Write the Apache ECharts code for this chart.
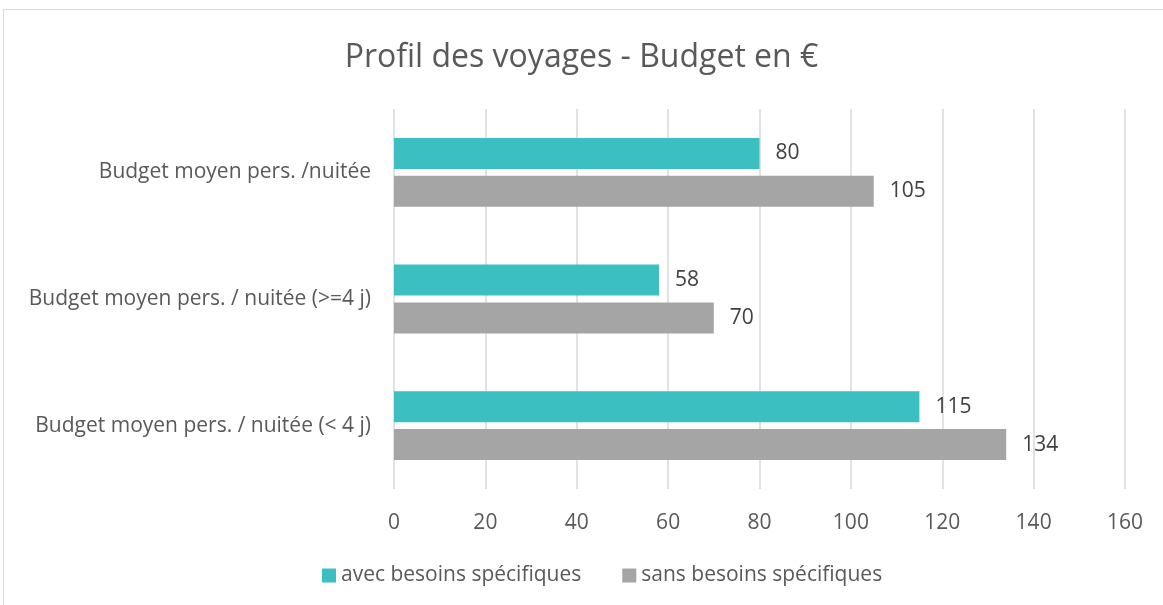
<!DOCTYPE html>
<html>
<head>
<meta charset="utf-8">
<script src="https://cdn.jsdelivr.net/npm/echarts@6/dist/echarts.min.js"></script>
<style>
  html, body { margin: 0; padding: 0; background: #fff; }
  #chart { width: 1163px; height: 605px; }
  #frame { position: absolute; left: 3px; top: 9px; width: 1170px; height: 610px; border: 1px solid #d9d9d9; pointer-events: none; }
</style>
</head>
<body>
<div id="chart"></div>
<div id="frame"></div>
<script>
// categories listed top to bottom
const categories = [
    'Budget moyen pers. /nuitée',
    'Budget moyen pers. / nuitée (>=4 j)',
    'Budget moyen pers. / nuitée (< 4 j)'
];
const avecBesoins = [80, 58, 115];
const sansBesoins = [105, 70, 134];
const xTicks = [0, 20, 40, 60, 80, 100, 120, 140, 160];

const fontName = 'Open Sans';
var myChart = echarts.init(document.getElementById('chart'));

var option = {
    animation: false,
    title: {
        text: 'Profil des voyages - Budget en €',
        left: 'center',
        top: 37,
        textStyle: { fontFamily: fontName, fontSize: 32, fontWeight: 'normal', color: '#595959' }
    },
    legend: {
        top: 560,
        left: 317,
        itemWidth: 14,
        itemHeight: 14,
        itemGap: 41,
        icon: 'rect',
        textStyle: { fontFamily: fontName, fontSize: 21, color: '#595959' },
        data: ['avec besoins spécifiques', 'sans besoins spécifiques']
    },
    grid: { left: 394, right: 38, top: 109, bottom: 116, containLabel: false },
    xAxis: {
        type: 'value',
        min: xTicks[0],
        max: xTicks[xTicks.length - 1],
        interval: 20,
        axisLine: { show: false },
        axisTick: { show: false },
        splitLine: { lineStyle: { color: '#d9d9d9', width: 1.5 } },
        axisLabel: { margin: 24, fontFamily: fontName, fontSize: 21, color: '#595959' }
    },
    yAxis: {
        type: 'category',
        inverse: true,
        data: categories,
        axisLine: { show: false },
        axisTick: { show: false },
        axisLabel: { margin: 23, fontFamily: fontName, fontSize: 21, color: '#595959' }
    },
    series: [
        {
            name: 'avec besoins spécifiques',
            type: 'bar',
            data: avecBesoins,
            barWidth: 31,
            barGap: '22%',
            itemStyle: { color: '#3bbfc1' },
            label: { show: true, position: 'right', distance: 16, fontFamily: fontName, fontSize: 21, color: '#404040' }
        },
        {
            name: 'sans besoins spécifiques',
            type: 'bar',
            data: sansBesoins,
            barWidth: 31,
            barGap: '22%',
            itemStyle: { color: '#a5a5a5' },
            label: { show: true, position: 'right', distance: 16, fontFamily: fontName, fontSize: 21, color: '#404040' }
        }
    ]
};

myChart.setOption(option);
</script>
</body>
</html>
